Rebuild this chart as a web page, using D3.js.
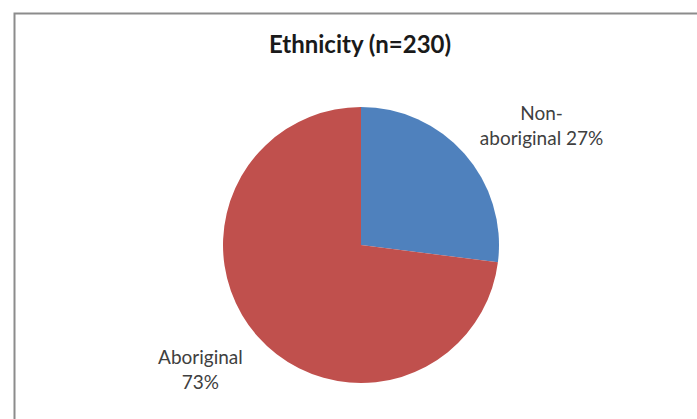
<!DOCTYPE html>
<html>
<head>
<meta charset="utf-8">
<script src="https://cdn.jsdelivr.net/npm/d3@7"></script>
<style>
  html, body { margin: 0; padding: 0; background: #fff; }
  svg { display: block; }
</style>
</head>
<body>
<svg id="chart" width="697" height="419"></svg>
<script>
// Ethnicity breakdown of the sample (percent)
const categories = ["Non-aboriginal", "Aboriginal"];
const values = [27, 73];
const colors = ["#4F81BD", "#C0504D"];
const labelLines = [["Non-", "aboriginal 27%"], ["Aboriginal", "73%"]];
const title = "Ethnicity (n=230)";

const svg = d3.select("#chart");
const W = 697, H = 419;
const font = "Lato, 'Open Sans', sans-serif";

// chart frame (runs off the right and bottom edges)
svg.append("rect")
  .attr("x", 14.5).attr("y", 13.5)
  .attr("width", W + 10).attr("height", H + 10)
  .attr("fill", "#fff")
  .attr("stroke", "#8c8c8c").attr("stroke-width", 2);

svg.append("text")
  .attr("x", 360).attr("y", 53)
  .attr("text-anchor", "middle")
  .attr("font-family", font)
  .attr("font-weight", "bold")
  .attr("font-size", 24)
  .attr("fill", "#1a1a1a")
  .text(title);

const cx = 361, cy = 245, r = 138;
const pie = d3.pie().sort(null).value(d => d)(values);
const arc = d3.arc().innerRadius(0).outerRadius(r);

const g = svg.append("g").attr("transform", `translate(${cx},${cy})`);
g.selectAll("path")
  .data(pie)
  .join("path")
  .attr("d", arc)
  .attr("fill", (d, i) => colors[i]);

// label anchor points: outside each slice along its mid-angle, nudged
// so the text block clears the rim
const labelArc = d3.arc().innerRadius(r * 1.3).outerRadius(r * 1.3);
const nudge = [[46, -1], [-26, 6]];
const lineH = 25.5;
pie.forEach((d, i) => {
  const [ax, ay] = labelArc.centroid(d);
  const lx = ax + nudge[i][0], ly = ay + nudge[i][1];
  const lines = labelLines[i];
  const t = g.append("text")
    .attr("text-anchor", "middle")
    .attr("font-family", font)
    .attr("font-size", 19)
    .attr("fill", "#404040");
  lines.forEach((s, k) => {
    t.append("tspan")
      .attr("x", lx)
      .attr("y", ly + (k - (lines.length - 1) / 2) * lineH + 7)
      .text(s);
  });
});
</script>
</body>
</html>
